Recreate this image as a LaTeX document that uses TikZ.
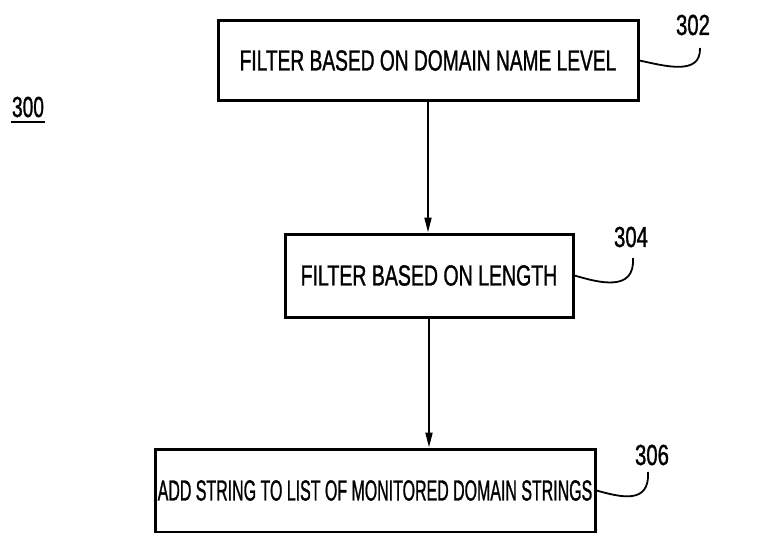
\documentclass[tikz,border=0pt]{standalone}
\usepackage{fontspec}
\newfontfamily\drawfont[FakeBold=1.4]{Liberation Sans}
\usetikzlibrary{arrows.meta,calc}
\begin{document}
\begin{tikzpicture}[x=1pt,y=-1pt,
  stepbox/.style={draw,line width=3pt,inner sep=0pt,font=\drawfont\fontsize{29}{30}\selectfont},
  flow/.style={line width=2pt,-{Triangle[length=15pt,width=7pt]}},
  refnum/.style={font=\drawfont\fontsize{29}{30}\selectfont,inner sep=0pt},
  leader/.style={line width=1.8pt}]
\useasboundingbox (0,0) rectangle (780,533);

% process steps (text squeezed horizontally, as in narrow drafting lettering)
\node[stepbox,minimum width=420pt,minimum height=80pt] (b1) at (428,60.5)
  {\scalebox{0.661}[1]{FILTER BASED ON DOMAIN NAME LEVEL}};
\node[stepbox,minimum width=288pt,minimum height=83pt] (b2) at (429,275.5)
  {\scalebox{0.673}[1]{FILTER BASED ON LENGTH}};
\node[stepbox,minimum width=440pt,minimum height=83pt] (b3) at (375,490.5)
  {\scalebox{0.55}[1]{ADD STRING TO LIST OF MONITORED DOMAIN STRINGS}};

% flow arrows
\draw[flow] (b1.south) -- (b1.south |- b2.north);
\draw[flow] (b2.south) -- (b2.south |- b3.north);

% reference numerals
\node[refnum] (n300) at (28,107) {\scalebox{0.66}[1]{300}};
\draw[line width=2pt] ($(n300.south west)+(-1,5)$) -- ($(n300.south east)+(1,5)$);
\node[refnum] (n302) at (693,25) {\scalebox{0.7}[1]{302}};
\node[refnum] (n304) at (631,237) {\scalebox{0.7}[1]{304}};
\node[refnum] (n306) at (652,455) {\scalebox{0.7}[1]{306}};

% leader lines
\coordinate (e302) at (700,48);
\coordinate (e304) at (633,258);
\coordinate (e306) at (648,472);
\draw[leader] (b1.east) .. controls (665,66) and (701,76) .. (e302);
\draw[leader] (b2.east) .. controls (600,283) and (635,292) .. (e304);
\draw[leader] (b3.east) .. controls (620,497) and (650,505) .. (e306);
\end{tikzpicture}
\end{document}
